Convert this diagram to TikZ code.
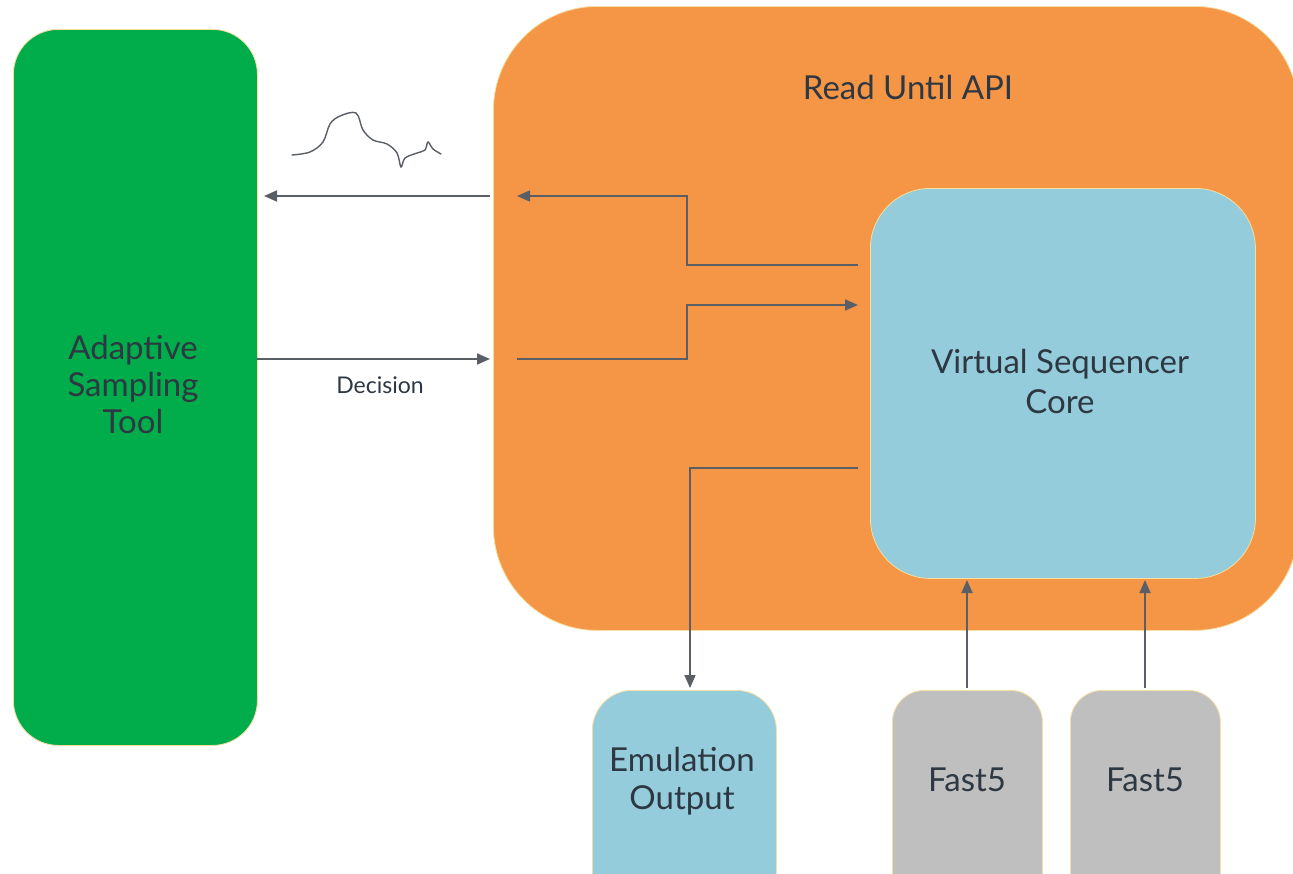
\documentclass[tikz,border=0pt]{standalone}
\usepackage{fontspec}
\setmainfont{Lato}
\usetikzlibrary{arrows.meta}
\definecolor{cgreen}{HTML}{00AD4A}
\definecolor{corange}{HTML}{F59646}
\definecolor{cblue}{HTML}{94CCDB}
\definecolor{cgray}{HTML}{BFBFBF}
\definecolor{cedge}{HTML}{F3DFA0}
\definecolor{ctext}{HTML}{2E3842}
\definecolor{carrow}{HTML}{5A5F66}
\tikzset{
  box/.style={draw=cedge, line width=0.8pt, inner sep=0pt, align=center, text=ctext},
  lbl/.style={text=ctext, align=center, inner sep=0pt},
  big/.style={font=\fontsize{33}{37}\selectfont},
  conn/.style={draw=carrow, line width=1.7pt, -{Triangle[length=13pt,width=11pt]}},
}
\begin{document}
\begin{tikzpicture}[x=1pt,y=-1pt]
\useasboundingbox (0,0) rectangle (1293,873);
\clip (0,0) rectangle (1293,873);
\fill[white] (0,0) rectangle (1293,873);
% boxes
\node[box, fill=cgreen, rounded corners=45pt, minimum width=244pt, minimum height=716pt, anchor=north west] (ast) at (13,29) {};
\node[lbl, big] (astt) at (133,384) {Adaptive\\Sampling\\Tool};
\node[box, fill=corange, rounded corners=104pt, minimum width=805pt, minimum height=624pt, anchor=north west] (api) at (493,6) {};
\node[lbl, big] (apit) at (908,87) {Read Until API};
\node[box, fill=cblue, rounded corners=60pt, minimum width=385pt, minimum height=390pt, anchor=north west] (core) at (870,188) {};
\node[lbl, font=\fontsize{33}{40}\selectfont] (coret) at (1060,381) {Virtual Sequencer\\Core};
\node[box, fill=cblue, rounded corners=40pt, minimum width=184pt, minimum height=220pt, anchor=north west] (emu) at (592,690) {};
\node[lbl, font=\fontsize{33}{38}\selectfont] (emut) at (682,781) {Emulation\\Output};
\node[box, fill=cgray, rounded corners=32pt, minimum width=150pt, minimum height=220pt, anchor=north west] (f1) at (892,690) {};
\node[lbl, big] (f1t) at (967,780) {Fast5};
\node[box, fill=cgray, rounded corners=32pt, minimum width=150pt, minimum height=220pt, anchor=north west] (f2) at (1070,690) {};
\node[lbl, big] (f2t) at (1145,780) {Fast5};
% coordinates for connectors
\coordinate (o1) at (490,196);
\coordinate (g1) at (264,196);
\coordinate (g2) at (257,359);
\coordinate (o2) at (490,359);
\coordinate (a1s) at (858,265);
\coordinate (a1e) at (517,196);
\coordinate (a2s) at (517,359);
\coordinate (a2e) at (858,305);
\coordinate (a3s) at (858,468);
\coordinate (a3e) at (690,688);
\coordinate (b1s) at (967,688);
\coordinate (b1e) at (967,580);
\coordinate (b2s) at (1145,688);
\coordinate (b2e) at (1145,580);
% connectors
\draw[conn] (o1) -- (g1);
\draw[conn] (g2) -- (o2);
\node[lbl, font=\fontsize{23}{27}\selectfont] (dec) at (380,385) {Decision};
\draw[conn] (a1s) -- (687,265) -- (687,196) -- (a1e);
\draw[conn] (a2s) -- (687,359) -- (687,305) -- (a2e);
\draw[conn] (a3s) -- (690,468) -- (a3e);
\draw[conn] (b1s) -- (b1e);
\draw[conn] (b2s) -- (b2e);
% squiggle (signal)
\draw[carrow, line width=1.4pt, line cap=round] plot[smooth, tension=0.55] coordinates {(292,155) (310,152) (323,142) (330,124) (340,116) (356,113) (363,130) (373,140) (387,144) (397,153) (401,167) (405,158) (417,153) (425,150) (428,142) (433,149) (441,154)};
\end{tikzpicture}
\end{document}
